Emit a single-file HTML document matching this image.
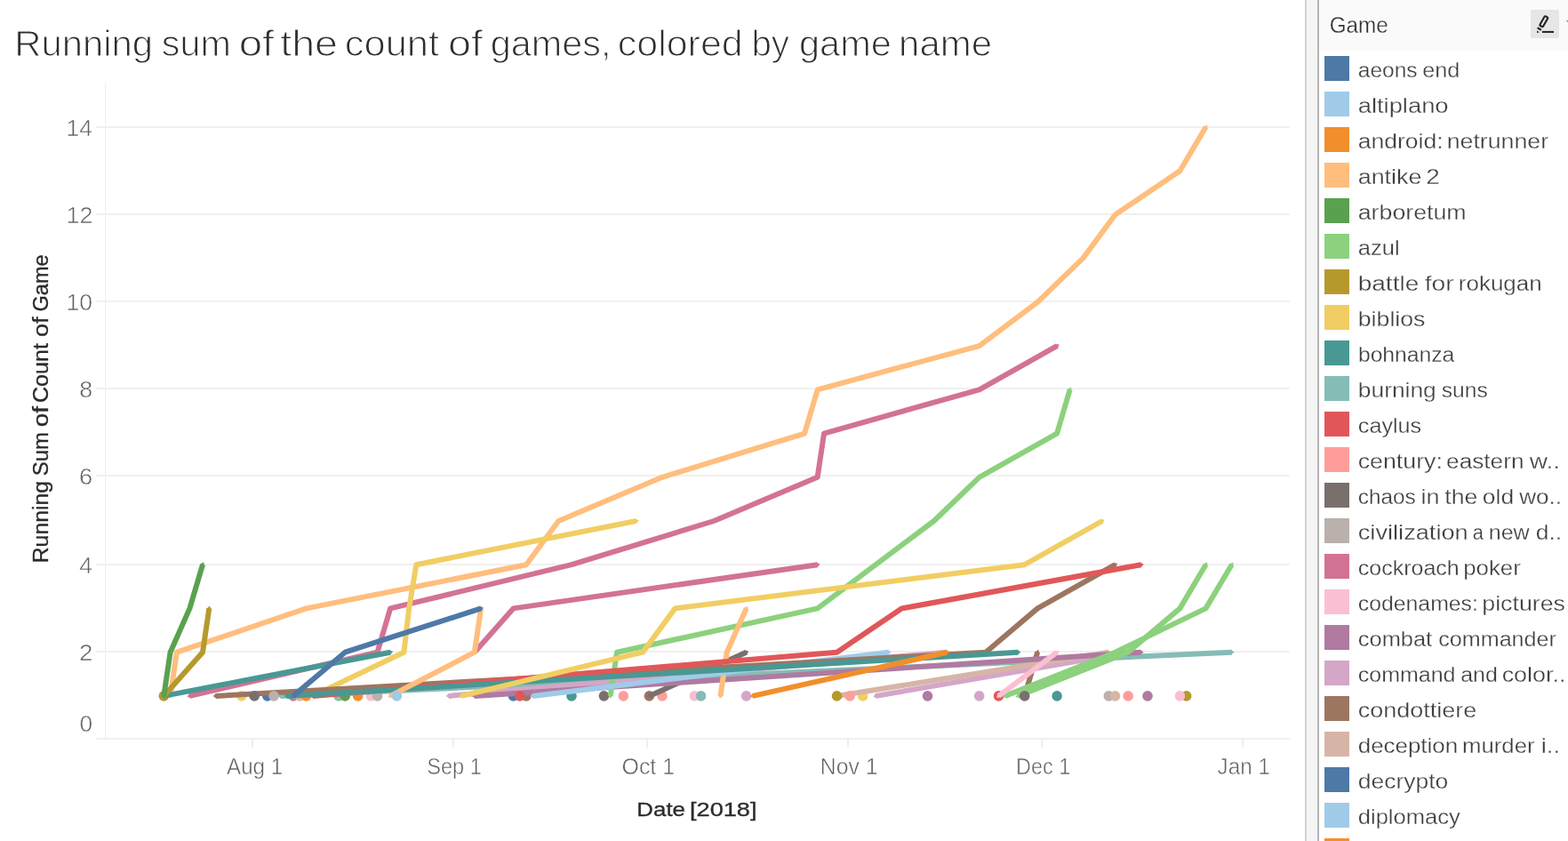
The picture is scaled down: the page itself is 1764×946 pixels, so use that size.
<!DOCTYPE html>
<html lang="en"><head><meta charset="utf-8"><title>Running sum of the count of games</title>
<style>
html,body{margin:0;padding:0;background:#fff;}
body{width:1764px;height:946px;overflow:hidden;position:relative;font-family:"Liberation Sans",sans-serif;}
svg text{white-space:pre;}
</style></head><body>
<svg width="1764" height="946" viewBox="0 0 1764 946" style="position:absolute;left:0;top:0">
<g fill="#f0f0f0">
<rect x="108" y="830" width="1343" height="2"/>
<rect x="108" y="732" width="1343" height="2"/>
<rect x="108" y="634" width="1343" height="2"/>
<rect x="108" y="534" width="1343" height="2"/>
<rect x="108" y="436" width="1343" height="2"/>
<rect x="108" y="338" width="1343" height="2"/>
<rect x="108" y="240" width="1343" height="2"/>
<rect x="108" y="142" width="1343" height="2"/>
<rect x="118" y="93" width="1" height="738" fill="#efefef"/>
<rect x="283" y="831" width="2" height="10" fill="#efefef"/>
<rect x="509" y="831" width="2" height="10" fill="#efefef"/>
<rect x="727" y="831" width="2" height="10" fill="#efefef"/>
<rect x="953" y="831" width="2" height="10" fill="#efefef"/>
<rect x="1171" y="831" width="2" height="10" fill="#efefef"/>
<rect x="1397" y="831" width="2" height="10" fill="#efefef"/>
</g>
<g fill="none" stroke-width="6" stroke-linecap="butt" stroke-linejoin="round">
<circle cx="184.3" cy="782.9" r="5.8" fill="#b6992d" stroke="none"/>
<circle cx="271.7" cy="782.9" r="5.8" fill="#f1ce63" stroke="none"/>
<circle cx="300.8" cy="782.9" r="5.8" fill="#4e79a7" stroke="none"/>
<circle cx="329.9" cy="782.9" r="5.8" fill="#d37295" stroke="none"/>
<circle cx="337.2" cy="782.9" r="5.8" fill="#d7b5a6" stroke="none"/>
<circle cx="344.5" cy="782.9" r="5.8" fill="#f28e2b" stroke="none"/>
<circle cx="380.9" cy="782.9" r="5.8" fill="#86bcb6" stroke="none"/>
<circle cx="388.2" cy="782.9" r="5.8" fill="#59a14f" stroke="none"/>
<circle cx="402.7" cy="782.9" r="5.8" fill="#f28e2b" stroke="none"/>
<circle cx="417.3" cy="782.9" r="5.8" fill="#fabfd2" stroke="none"/>
<circle cx="424.6" cy="782.9" r="5.8" fill="#bab0ac" stroke="none"/>
<circle cx="577.5" cy="782.9" r="5.8" fill="#4e79a7" stroke="none"/>
<circle cx="592.0" cy="782.9" r="5.8" fill="#9d7660" stroke="none"/>
<circle cx="643.0" cy="782.9" r="5.8" fill="#499894" stroke="none"/>
<circle cx="679.4" cy="782.9" r="5.8" fill="#79706e" stroke="none"/>
<circle cx="701.3" cy="782.9" r="5.8" fill="#ff9d9a" stroke="none"/>
<circle cx="730.4" cy="782.9" r="5.8" fill="#9d7660" stroke="none"/>
<circle cx="744.9" cy="782.9" r="5.8" fill="#ff9d9a" stroke="none"/>
<circle cx="781.3" cy="782.9" r="5.8" fill="#fabfd2" stroke="none"/>
<circle cx="788.6" cy="782.9" r="5.8" fill="#86bcb6" stroke="none"/>
<circle cx="839.6" cy="782.9" r="5.8" fill="#d4a6c8" stroke="none"/>
<circle cx="970.6" cy="782.9" r="5.8" fill="#f1ce63" stroke="none"/>
<circle cx="1043.5" cy="782.9" r="5.8" fill="#b07aa1" stroke="none"/>
<circle cx="1101.7" cy="782.9" r="5.8" fill="#d4a6c8" stroke="none"/>
<circle cx="1123.5" cy="782.9" r="5.8" fill="#e15759" stroke="none"/>
<circle cx="1189.1" cy="782.9" r="5.8" fill="#499894" stroke="none"/>
<circle cx="1247.3" cy="782.9" r="5.8" fill="#bab0ac" stroke="none"/>
<circle cx="1254.6" cy="782.9" r="5.8" fill="#d7b5a6" stroke="none"/>
<circle cx="1269.2" cy="782.9" r="5.8" fill="#ff9d9a" stroke="none"/>
<circle cx="1291.0" cy="782.9" r="5.8" fill="#b07aa1" stroke="none"/>
<circle cx="1334.7" cy="782.9" r="5.8" fill="#b6992d" stroke="none"/>
<circle cx="1327.4" cy="782.9" r="5.8" fill="#fabfd2" stroke="none"/>
<polyline points="191.6,782.9 198.9,733.7 344.5,684.4 592.0,635.2 628.4,586.0 744.9,536.8 905.1,487.6 919.7,438.3 1101.7,389.1 1167.2,339.9 1218.2,290.7 1254.6,241.5 1327.4,192.2 1356.5,143.0" stroke="#ffbe7d"/><polygon points="188.8,781.5 191.1,785.8 194.7,782.3" fill="#ffbe7d" stroke="none"/><polygon points="1358.6,145.4 1358.1,140.4 1353.4,142.4" fill="#ffbe7d" stroke="none"/>
<polyline points="213.4,782.9 424.6,733.7 439.1,684.4 643.0,635.2 803.2,586.0 919.7,536.8 927.0,487.6 1101.7,438.3 1189.1,389.1" stroke="#d37295"/><polygon points="213.7,779.7 210.5,783.6 215.1,785.6" fill="#d37295" stroke="none"/><polygon points="1189.7,392.2 1191.7,387.6 1186.7,387.0" fill="#d37295" stroke="none"/>
<polyline points="184.3,782.9 439.1,733.7" stroke="#499894"/><polygon points="184.7,779.7 181.4,783.4 185.9,785.6" fill="#499894" stroke="none"/><polygon points="438.7,736.8 442.1,733.1 437.6,730.9" fill="#499894" stroke="none"/>
<polyline points="351.8,782.9 454.4,733.7 460.2,684.4 468.3,635.2 715.8,586.0" stroke="#f1ce63"/><polygon points="351.4,779.7 349.1,784.2 354.0,785.2" fill="#f1ce63" stroke="none"/><polygon points="715.4,589.1 718.8,585.4 714.2,583.3" fill="#f1ce63" stroke="none"/>
<polyline points="1152.7,782.9 1167.2,733.7" stroke="#9d7660"/><polygon points="1150.1,781.1 1151.8,785.8 1155.8,782.8" fill="#9d7660" stroke="none"/><polygon points="1169.8,735.5 1168.1,730.8 1164.1,733.8" fill="#9d7660" stroke="none"/>
<polyline points="730.4,782.9 839.6,733.7" stroke="#79706e"/><polygon points="730.1,779.7 727.6,784.1 732.5,785.2" fill="#79706e" stroke="none"/><polygon points="839.9,736.8 842.3,732.4 837.4,731.3" fill="#79706e" stroke="none"/>
<polyline points="315.4,782.9 1385.7,733.7" stroke="#86bcb6"/><polygon points="316.2,779.8 312.4,783.0 316.5,785.8" fill="#86bcb6" stroke="none"/><polygon points="1384.8,736.7 1388.7,733.5 1384.5,730.7" fill="#86bcb6" stroke="none"/>
<polyline points="985.2,782.9 1269.2,733.7" stroke="#d4a6c8"/><polygon points="985.7,779.8 982.3,783.4 986.7,785.7" fill="#d4a6c8" stroke="none"/><polygon points="1268.7,736.8 1272.1,733.1 1267.7,730.9" fill="#d4a6c8" stroke="none"/>
<polyline points="941.5,782.9 1247.3,733.7" stroke="#d7b5a6"/><polygon points="942.0,779.8 938.6,783.4 943.0,785.7" fill="#d7b5a6" stroke="none"/><polygon points="1246.8,736.8 1250.3,733.2 1245.9,730.9" fill="#d7b5a6" stroke="none"/>
<polyline points="504.7,782.9 1065.3,733.7" stroke="#d4a6c8"/><polygon points="505.4,779.8 501.7,783.1 505.9,785.8" fill="#d4a6c8" stroke="none"/><polygon points="1064.6,736.7 1068.3,733.4 1064.0,730.8" fill="#d4a6c8" stroke="none"/>
<polyline points="533.8,782.9 1283.7,733.7" stroke="#b07aa1"/><polygon points="534.6,779.8 530.8,783.1 535.0,785.8" fill="#b07aa1" stroke="none"/><polygon points="1282.9,736.7 1286.7,733.5 1282.5,730.7" fill="#b07aa1" stroke="none"/>
<polyline points="686.7,782.9 694.0,733.7 919.7,684.4 1050.7,586.0 1101.7,536.8 1189.1,487.6 1203.6,438.3" stroke="#8cd17d"/><polygon points="683.9,781.5 686.2,785.8 689.8,782.3" fill="#8cd17d" stroke="none"/><polygon points="1206.2,440.2 1204.5,435.5 1200.5,438.4" fill="#8cd17d" stroke="none"/>
<polyline points="810.5,782.9 817.7,733.7 839.6,684.4" stroke="#ffbe7d"/><polygon points="807.6,781.5 810.0,785.8 813.6,782.3" fill="#ffbe7d" stroke="none"/><polygon points="841.9,686.6 840.8,681.7 836.4,684.1" fill="#ffbe7d" stroke="none"/>
<polyline points="599.3,782.9 999.8,733.7" stroke="#a0cbe8"/><polygon points="599.9,779.8 596.3,783.2 600.7,785.7" fill="#a0cbe8" stroke="none"/><polygon points="999.1,736.8 1002.7,733.3 998.4,730.8" fill="#a0cbe8" stroke="none"/>
<polyline points="242.5,782.9 1109.0,733.7 1167.2,684.4 1254.6,635.2" stroke="#9d7660"/><polygon points="243.4,779.8 239.6,783.1 243.7,785.8" fill="#9d7660" stroke="none"/><polygon points="1255.2,638.3 1257.2,633.7 1252.3,633.1" fill="#9d7660" stroke="none"/>
<polyline points="351.8,782.9 941.5,733.7 1014.3,684.4 1283.7,635.2" stroke="#e15759"/><polygon points="352.5,779.8 348.8,783.1 353.0,785.8" fill="#e15759" stroke="none"/><polygon points="1283.3,638.4 1286.7,634.7 1282.2,632.4" fill="#e15759" stroke="none"/>
<polyline points="322.6,782.9 1145.4,733.7" stroke="#499894"/><polygon points="323.5,779.8 319.6,783.1 323.8,785.8" fill="#499894" stroke="none"/><polygon points="1144.6,736.7 1148.4,733.5 1144.2,730.7" fill="#499894" stroke="none"/>
<polyline points="533.8,733.7 577.5,684.4 919.7,635.2" stroke="#d37295"/><polygon points="532.2,730.9 531.8,735.9 536.7,734.9" fill="#d37295" stroke="none"/><polygon points="919.1,638.3 922.7,634.8 918.3,632.4" fill="#d37295" stroke="none"/>
<polyline points="1145.4,782.9 1269.2,733.7 1327.4,684.4 1356.5,635.2" stroke="#8cd17d"/><polygon points="1145.2,779.7 1142.6,784.0 1147.4,785.3" fill="#8cd17d" stroke="none"/><polygon points="1358.6,637.6 1358.1,632.6 1353.4,634.6" fill="#8cd17d" stroke="none"/>
<polyline points="1130.8,782.9 1254.6,733.7 1356.5,684.4 1385.7,635.2" stroke="#8cd17d"/><polygon points="1130.7,779.7 1128.0,784.0 1132.9,785.3" fill="#8cd17d" stroke="none"/><polygon points="1387.7,637.6 1387.2,632.6 1382.6,634.6" fill="#8cd17d" stroke="none"/>
<polyline points="1123.5,782.9 1189.1,733.7" stroke="#fabfd2"/><polygon points="1122.5,779.9 1121.2,784.7 1126.2,784.7" fill="#fabfd2" stroke="none"/><polygon points="1190.1,736.7 1191.5,731.9 1186.5,731.9" fill="#fabfd2" stroke="none"/>
<polyline points="519.2,782.9 723.1,733.7 759.5,684.4 1152.7,635.2 1240.0,586.0" stroke="#f1ce63"/><polygon points="519.5,779.7 516.3,783.6 520.9,785.6" fill="#f1ce63" stroke="none"/><polygon points="1240.6,589.1 1242.7,584.5 1237.7,583.9" fill="#f1ce63" stroke="none"/>
<polyline points="846.9,782.9 1065.3,733.7" stroke="#f28e2b"/><polygon points="847.2,779.7 843.9,783.5 848.5,785.6" fill="#f28e2b" stroke="none"/><polygon points="1065.0,736.8 1068.2,733.0 1063.7,731.0" fill="#f28e2b" stroke="none"/>
<polyline points="439.1,782.9 533.8,733.7 541.1,684.4" stroke="#ffbe7d"/><polygon points="438.6,779.8 436.5,784.3 441.4,785.1" fill="#ffbe7d" stroke="none"/><polygon points="543.9,685.9 541.5,681.5 538.0,685.0" fill="#ffbe7d" stroke="none"/>
<polyline points="329.9,782.9 388.2,733.7 541.1,684.4" stroke="#4e79a7"/><polygon points="328.7,779.9 327.6,784.8 332.6,784.5" fill="#4e79a7" stroke="none"/><polygon points="541.0,687.6 543.9,683.5 539.2,681.9" fill="#4e79a7" stroke="none"/>
<polyline points="184.3,782.9 228.0,733.7 235.3,684.4" stroke="#b6992d"/><polygon points="182.7,780.1 182.3,785.1 187.2,784.1" fill="#b6992d" stroke="none"/><polygon points="238.1,685.9 235.7,681.5 232.2,685.0" fill="#b6992d" stroke="none"/>
<polyline points="184.3,782.9 191.6,733.7 213.4,684.4 228.0,635.2" stroke="#59a14f"/><polygon points="181.5,781.5 183.9,785.8 187.4,782.3" fill="#59a14f" stroke="none"/><polygon points="230.6,637.0 228.8,632.3 224.8,635.3" fill="#59a14f" stroke="none"/>
<circle cx="286.2" cy="782.9" r="5.8" fill="#79706e" stroke="none"/>
<circle cx="308.1" cy="782.9" r="5.8" fill="#bab0ac" stroke="none"/>
<circle cx="446.4" cy="782.9" r="5.8" fill="#a0cbe8" stroke="none"/>
<circle cx="584.8" cy="782.9" r="5.8" fill="#e15759" stroke="none"/>
<circle cx="941.5" cy="782.9" r="5.8" fill="#b6992d" stroke="none"/>
<circle cx="956.1" cy="782.9" r="5.8" fill="#ff9d9a" stroke="none"/>
<circle cx="1152.7" cy="782.9" r="5.8" fill="#79706e" stroke="none"/>
</g>
<g font-family="'Liberation Sans', sans-serif">
<g stroke="#fff" stroke-width="1.1">
<text y="63.2" font-size="41" fill="#2e2e2e" ><tspan x="16.27" textLength="155.83" lengthAdjust="spacingAndGlyphs">Running</tspan> <tspan x="181.85" textLength="77.97" lengthAdjust="spacingAndGlyphs">sum</tspan> <tspan x="268.70" textLength="39.63" lengthAdjust="spacingAndGlyphs">of</tspan> <tspan x="315.19" textLength="64.78" lengthAdjust="spacingAndGlyphs">the</tspan> <tspan x="387.86" textLength="106.16" lengthAdjust="spacingAndGlyphs">count</tspan> <tspan x="504.04" textLength="38.99" lengthAdjust="spacingAndGlyphs">of</tspan> <tspan x="551.66" textLength="135.76" lengthAdjust="spacingAndGlyphs">games,</tspan> <tspan x="694.88" textLength="140.79" lengthAdjust="spacingAndGlyphs">colored</tspan> <tspan x="845.40" textLength="42.58" lengthAdjust="spacingAndGlyphs">by</tspan> <tspan x="899.06" textLength="103.79" lengthAdjust="spacingAndGlyphs">game</tspan> <tspan x="1011.12" textLength="104.85" lengthAdjust="spacingAndGlyphs">name</tspan></text>
</g>
<text y="822.8" font-size="25" fill="#5f5f5f" stroke="#fff" stroke-width="0.5"><tspan x="89.47" textLength="14.66" lengthAdjust="spacingAndGlyphs">0</tspan></text>
<text y="743.0" font-size="25" fill="#5f5f5f" stroke="#fff" stroke-width="0.5"><tspan x="89.11" textLength="15.38" lengthAdjust="spacingAndGlyphs">2</tspan></text>
<text y="645.0" font-size="25" fill="#5f5f5f" stroke="#fff" stroke-width="0.5"><tspan x="89.29" textLength="14.79" lengthAdjust="spacingAndGlyphs">4</tspan></text>
<text y="545.0" font-size="25" fill="#5f5f5f" stroke="#fff" stroke-width="0.5"><tspan x="89.11" textLength="15.19" lengthAdjust="spacingAndGlyphs">6</tspan></text>
<text y="447.0" font-size="25" fill="#5f5f5f" stroke="#fff" stroke-width="0.5"><tspan x="89.33" textLength="14.93" lengthAdjust="spacingAndGlyphs">8</tspan></text>
<text y="349.0" font-size="25" fill="#5f5f5f" stroke="#fff" stroke-width="0.5"><tspan x="74.47" textLength="29.67" lengthAdjust="spacingAndGlyphs">10</tspan></text>
<text y="251.0" font-size="25" fill="#5f5f5f" stroke="#fff" stroke-width="0.5"><tspan x="74.44" textLength="30.01" lengthAdjust="spacingAndGlyphs">12</tspan></text>
<text y="153.0" font-size="25" fill="#5f5f5f" stroke="#fff" stroke-width="0.5"><tspan x="74.49" textLength="29.39" lengthAdjust="spacingAndGlyphs">14</tspan></text>
<text y="870.9" font-size="25" fill="#5f5f5f" stroke="#fff" stroke-width="0.5"><tspan x="255.05" textLength="63.13" lengthAdjust="spacingAndGlyphs">Aug 1</tspan></text>
<text y="870.9" font-size="25" fill="#5f5f5f" stroke="#fff" stroke-width="0.5"><tspan x="480.13" textLength="61.73" lengthAdjust="spacingAndGlyphs">Sep 1</tspan></text>
<text y="870.9" font-size="25" fill="#5f5f5f" stroke="#fff" stroke-width="0.5"><tspan x="699.62" textLength="59.39" lengthAdjust="spacingAndGlyphs">Oct 1</tspan></text>
<text y="870.9" font-size="25" fill="#5f5f5f" stroke="#fff" stroke-width="0.5"><tspan x="922.87" textLength="64.53" lengthAdjust="spacingAndGlyphs">Nov 1</tspan></text>
<text y="870.9" font-size="25" fill="#5f5f5f" stroke="#fff" stroke-width="0.5"><tspan x="1143.08" textLength="61.06" lengthAdjust="spacingAndGlyphs">Dec 1</tspan></text>
<text y="870.9" font-size="25" fill="#5f5f5f" stroke="#fff" stroke-width="0.5"><tspan x="1369.62" textLength="59.26" lengthAdjust="spacingAndGlyphs">Jan 1</tspan></text>
<text y="918.0" font-size="22.8" fill="#2b2b2b" stroke="#2b2b2b" stroke-width="0.35"><tspan x="716.38" textLength="54.57" lengthAdjust="spacingAndGlyphs">Date</tspan> <tspan x="776.06" textLength="75.47" lengthAdjust="spacingAndGlyphs">[2018]</tspan></text>
<g transform="translate(53.8,631.3) rotate(-90)">
<text y="0.0" font-size="23.5" fill="#2b2b2b" stroke="#2b2b2b" stroke-width="0.35"><tspan x="-2.04" textLength="92.43" lengthAdjust="spacingAndGlyphs">Running</tspan> <tspan x="96.11" textLength="49.16" lengthAdjust="spacingAndGlyphs">Sum</tspan> <tspan x="151.03" textLength="23.33" lengthAdjust="spacingAndGlyphs">of</tspan> <tspan x="178.23" textLength="66.96" lengthAdjust="spacingAndGlyphs">Count</tspan> <tspan x="252.36" textLength="22.60" lengthAdjust="spacingAndGlyphs">of</tspan> <tspan x="280.82" textLength="64.03" lengthAdjust="spacingAndGlyphs">Game</tspan></text>
</g>
</g>
<rect x="1468" y="0" width="16" height="946" fill="#f5f5f5"/>
<rect x="1468" y="0" width="2" height="946" fill="#d2d2d2"/>
<rect x="1482" y="0" width="2" height="946" fill="#b4b4b4"/>
<rect x="1484" y="0" width="280" height="57" fill="#fafafa"/>
<rect x="1722" y="11" width="32" height="32" rx="1.5" fill="#e6e6e6"/>
<g fill="none" stroke="#222" stroke-width="2" stroke-linejoin="round"><rect x="-2.05" y="-6.1" width="4.1" height="12.2" rx="1.1" stroke-width="2.1" transform="translate(1736.8,24.2) rotate(30)"/><path d="M1729.6 31.2 L1733.9 33.7" stroke-width="2.2"/><path d="M1734.9 35.9 H1748"/></g>
<path d="M1729 34.5 L1731.8 36.2 L1729 37 Z" fill="#222"/>
<path d="M1761.8 23 h9 l-4.5 4.6 z" fill="#8a8a8a"/>
<g font-family="'Liberation Sans', sans-serif">
<text y="36.5" font-size="25.3" fill="#303030" stroke="#fafafa" stroke-width="0.3"><tspan x="1495.78" textLength="66.00" lengthAdjust="spacingAndGlyphs">Game</tspan></text>
<rect x="1490" y="63" width="28" height="28" fill="#4e79a7"/>
<text y="86.8" font-size="24.5" fill="#3d3d3d" stroke="#fff" stroke-width="0.3"><tspan x="1527.86" textLength="66.73" lengthAdjust="spacingAndGlyphs">aeons</tspan> <tspan x="1600.23" textLength="41.99" lengthAdjust="spacingAndGlyphs">end</tspan></text>
<rect x="1490" y="103" width="28" height="28" fill="#a0cbe8"/>
<text y="126.8" font-size="24.5" fill="#3d3d3d" stroke="#fff" stroke-width="0.3"><tspan x="1527.74" textLength="101.81" lengthAdjust="spacingAndGlyphs">altiplano</tspan></text>
<rect x="1490" y="143" width="28" height="28" fill="#f28e2b"/>
<text y="166.8" font-size="24.5" fill="#3d3d3d" stroke="#fff" stroke-width="0.3"><tspan x="1527.77" textLength="95.74" lengthAdjust="spacingAndGlyphs">android:</tspan> <tspan x="1627.73" textLength="114.32" lengthAdjust="spacingAndGlyphs">netrunner</tspan></text>
<rect x="1490" y="183" width="28" height="28" fill="#ffbe7d"/>
<text y="206.8" font-size="24.5" fill="#3d3d3d" stroke="#fff" stroke-width="0.3"><tspan x="1527.76" textLength="71.63" lengthAdjust="spacingAndGlyphs">antike</tspan> <tspan x="1604.20" textLength="15.50" lengthAdjust="spacingAndGlyphs">2</tspan></text>
<rect x="1490" y="223" width="28" height="28" fill="#59a14f"/>
<text y="246.8" font-size="24.5" fill="#3d3d3d" stroke="#fff" stroke-width="0.3"><tspan x="1527.76" textLength="121.90" lengthAdjust="spacingAndGlyphs">arboretum</tspan></text>
<rect x="1490" y="263" width="28" height="28" fill="#8cd17d"/>
<text y="286.8" font-size="24.5" fill="#3d3d3d" stroke="#fff" stroke-width="0.3"><tspan x="1527.82" textLength="46.79" lengthAdjust="spacingAndGlyphs">azul</tspan></text>
<rect x="1490" y="303" width="28" height="28" fill="#b6992d"/>
<text y="326.8" font-size="24.5" fill="#3d3d3d" stroke="#fff" stroke-width="0.3"><tspan x="1527.69" textLength="68.55" lengthAdjust="spacingAndGlyphs">battle</tspan> <tspan x="1602.70" textLength="32.97" lengthAdjust="spacingAndGlyphs">for</tspan> <tspan x="1640.88" textLength="93.71" lengthAdjust="spacingAndGlyphs">rokugan</tspan></text>
<rect x="1490" y="343" width="28" height="28" fill="#f1ce63"/>
<text y="366.8" font-size="24.5" fill="#3d3d3d" stroke="#fff" stroke-width="0.3"><tspan x="1527.78" textLength="75.69" lengthAdjust="spacingAndGlyphs">biblios</tspan></text>
<rect x="1490" y="383" width="28" height="28" fill="#499894"/>
<text y="406.8" font-size="24.5" fill="#3d3d3d" stroke="#fff" stroke-width="0.3"><tspan x="1527.91" textLength="108.39" lengthAdjust="spacingAndGlyphs">bohnanza</tspan></text>
<rect x="1490" y="423" width="28" height="28" fill="#86bcb6"/>
<text y="446.8" font-size="24.5" fill="#3d3d3d" stroke="#fff" stroke-width="0.3"><tspan x="1527.80" textLength="88.00" lengthAdjust="spacingAndGlyphs">burning</tspan> <tspan x="1621.82" textLength="51.97" lengthAdjust="spacingAndGlyphs">suns</tspan></text>
<rect x="1490" y="463" width="28" height="28" fill="#e15759"/>
<text y="486.8" font-size="24.5" fill="#3d3d3d" stroke="#fff" stroke-width="0.3"><tspan x="1527.83" textLength="71.28" lengthAdjust="spacingAndGlyphs">caylus</tspan></text>
<rect x="1490" y="503" width="28" height="28" fill="#ff9d9a"/>
<text y="526.8" font-size="24.5" fill="#3d3d3d" stroke="#fff" stroke-width="0.3"><tspan x="1527.76" textLength="95.08" lengthAdjust="spacingAndGlyphs">century:</tspan> <tspan x="1627.09" textLength="87.42" lengthAdjust="spacingAndGlyphs">eastern</tspan> <tspan x="1720.84" textLength="34.32" lengthAdjust="spacingAndGlyphs">w..</tspan></text>
<rect x="1490" y="543" width="28" height="28" fill="#79706e"/>
<text y="566.8" font-size="24.5" fill="#3d3d3d" stroke="#fff" stroke-width="0.3"><tspan x="1527.87" textLength="64.91" lengthAdjust="spacingAndGlyphs">chaos</tspan> <tspan x="1598.50" textLength="20.95" lengthAdjust="spacingAndGlyphs">in</tspan> <tspan x="1625.30" textLength="37.09" lengthAdjust="spacingAndGlyphs">the</tspan> <tspan x="1667.89" textLength="35.21" lengthAdjust="spacingAndGlyphs">old</tspan> <tspan x="1709.24" textLength="47.84" lengthAdjust="spacingAndGlyphs">wo..</tspan></text>
<rect x="1490" y="583" width="28" height="28" fill="#bab0ac"/>
<text y="606.8" font-size="24.5" fill="#3d3d3d" stroke="#fff" stroke-width="0.3"><tspan x="1527.74" textLength="124.02" lengthAdjust="spacingAndGlyphs">civilization</tspan> <tspan x="1656.87" textLength="12.13" lengthAdjust="spacingAndGlyphs">a</tspan> <tspan x="1674.73" textLength="46.00" lengthAdjust="spacingAndGlyphs">new</tspan> <tspan x="1727.79" textLength="29.31" lengthAdjust="spacingAndGlyphs">d..</tspan></text>
<rect x="1490" y="623" width="28" height="28" fill="#d37295"/>
<text y="646.8" font-size="24.5" fill="#3d3d3d" stroke="#fff" stroke-width="0.3"><tspan x="1527.84" textLength="113.88" lengthAdjust="spacingAndGlyphs">cockroach</tspan> <tspan x="1646.24" textLength="64.49" lengthAdjust="spacingAndGlyphs">poker</tspan></text>
<rect x="1490" y="663" width="28" height="28" fill="#fabfd2"/>
<text y="686.8" font-size="24.5" fill="#3d3d3d" stroke="#fff" stroke-width="0.3"><tspan x="1527.85" textLength="135.02" lengthAdjust="spacingAndGlyphs">codenames:</tspan> <tspan x="1667.28" textLength="93.69" lengthAdjust="spacingAndGlyphs">pictures</tspan></text>
<rect x="1490" y="703" width="28" height="28" fill="#b07aa1"/>
<text y="726.8" font-size="24.5" fill="#3d3d3d" stroke="#fff" stroke-width="0.3"><tspan x="1527.82" textLength="83.26" lengthAdjust="spacingAndGlyphs">combat</tspan> <tspan x="1618.33" textLength="132.48" lengthAdjust="spacingAndGlyphs">commander</tspan></text>
<rect x="1490" y="743" width="28" height="28" fill="#d4a6c8"/>
<text y="766.8" font-size="24.5" fill="#3d3d3d" stroke="#fff" stroke-width="0.3"><tspan x="1527.84" textLength="109.67" lengthAdjust="spacingAndGlyphs">command</tspan> <tspan x="1643.24" textLength="41.56" lengthAdjust="spacingAndGlyphs">and</tspan> <tspan x="1689.66" textLength="71.70" lengthAdjust="spacingAndGlyphs">color..</tspan></text>
<rect x="1490" y="783" width="28" height="28" fill="#9d7660"/>
<text y="806.8" font-size="24.5" fill="#3d3d3d" stroke="#fff" stroke-width="0.3"><tspan x="1527.75" textLength="133.44" lengthAdjust="spacingAndGlyphs">condottiere</tspan></text>
<rect x="1490" y="823" width="28" height="28" fill="#d7b5a6"/>
<text y="846.8" font-size="24.5" fill="#3d3d3d" stroke="#fff" stroke-width="0.3"><tspan x="1527.81" textLength="112.27" lengthAdjust="spacingAndGlyphs">deception</tspan> <tspan x="1645.09" textLength="81.43" lengthAdjust="spacingAndGlyphs">murder</tspan> <tspan x="1733.76" textLength="21.34" lengthAdjust="spacingAndGlyphs">i..</tspan></text>
<rect x="1490" y="863" width="28" height="28" fill="#4e79a7"/>
<text y="886.8" font-size="24.5" fill="#3d3d3d" stroke="#fff" stroke-width="0.3"><tspan x="1527.79" textLength="101.52" lengthAdjust="spacingAndGlyphs">decrypto</tspan></text>
<rect x="1490" y="903" width="28" height="28" fill="#a0cbe8"/>
<text y="926.8" font-size="24.5" fill="#3d3d3d" stroke="#fff" stroke-width="0.3"><tspan x="1527.83" textLength="114.82" lengthAdjust="spacingAndGlyphs">diplomacy</tspan></text>
<rect x="1490" y="943" width="28" height="28" fill="#f28e2b"/>
</g>
</svg>
</body></html>
